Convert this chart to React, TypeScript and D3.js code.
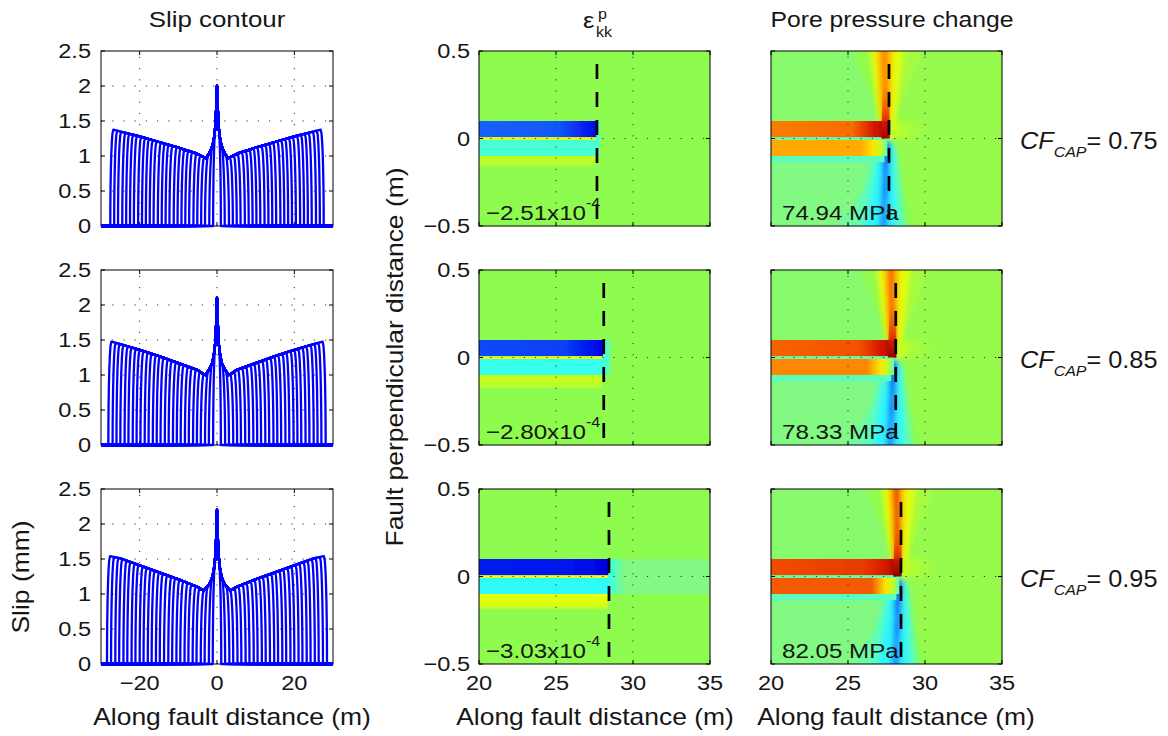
import React from "react";
import * as d3 from "d3";

// ---------------- data ----------------
const cfCapValues = ["0.75", "0.85", "0.95"];
const strainPeakLabels = ["−2.51", "−2.80", "−3.03"];
const porePeakLabels = ["74.94", "78.33", "82.05"];
const rupturePosition = [27.66, 28.1, 28.44];

const slipXTicks = [-20, 0, 20];
const slipYTicks = [0, 0.5, 1, 1.5, 2, 2.5];
const fieldXTicks = [20, 25, 30, 35];
const fieldYTicks = [-0.5, 0, 0.5];

// slip envelope (distance from hypocentre m, slip mm) — symmetric
const slipEnvelope1: [number, number][] = [[0, 2.0], [0.15, 1.75], [0.3, 1.55], [0.5, 1.38], [0.8, 1.24], [1.2, 1.14], [2.0, 1.04], [2.8, 0.97], [3.3, 0.98], [5, 1.03], [10, 1.12], [15, 1.2], [20, 1.28], [25, 1.35], [27.6, 1.39]];
const slipEnvelope2: [number, number][] = [[0, 2.1], [0.15, 1.82], [0.3, 1.6], [0.5, 1.43], [0.8, 1.29], [1.2, 1.18], [2.0, 1.08], [3.0, 1.0], [3.5, 1.01], [5, 1.07], [10, 1.17], [15, 1.27], [20, 1.36], [25, 1.44], [28.1, 1.49]];
const slipEnvelope3: [number, number][] = [[0, 2.2], [0.15, 1.9], [0.3, 1.67], [0.5, 1.5], [0.8, 1.35], [1.2, 1.24], [2.0, 1.14], [3.4, 1.05], [3.9, 1.06], [5, 1.1], [10, 1.21], [15, 1.31], [20, 1.41], [25, 1.51], [28.45, 1.55]];
const slipEnvelopes = [slipEnvelope1, slipEnvelope2, slipEnvelope3];

// rupture half-lengths of each slip contour
const slipTips1 = [1.0, 2.0, 3.1, 4.1, 5.1, 6.1, 7.2, 8.2, 9.2, 10.2, 11.2, 12.3, 13.3, 14.3, 15.3, 16.4, 17.4, 18.4, 19.4, 20.4, 21.5, 22.5, 23.5, 24.5, 25.6, 26.6, 27.6];
const slipTips2 = [1.0, 2.1, 3.1, 4.2, 5.2, 6.2, 7.3, 8.3, 9.4, 10.4, 11.4, 12.5, 13.5, 14.6, 15.6, 16.6, 17.7, 18.7, 19.8, 20.8, 21.8, 22.9, 23.9, 25.0, 26.0, 27.0, 28.1];
const slipTips3 = [1.1, 2.1, 3.2, 4.2, 5.3, 6.3, 7.4, 8.4, 9.5, 10.5, 11.6, 12.6, 13.7, 14.8, 15.8, 16.9, 17.9, 19.0, 20.0, 21.1, 22.1, 23.2, 24.2, 25.3, 26.3, 27.4, 28.45];
const slipTips = [slipTips1, slipTips2, slipTips3];

// plastic volumetric strain field (colormap units 0..1)
const strainUpper = [0.21, 0.18, 0.13];
const strainUpperFront = [0.11, 0.1, 0.09];
const strainMid = [0.41, 0.39, 0.375];
const strainLow = [0.59, 0.6, 0.63];
const strainLowEdge = [-0.16, -0.175, -0.19];
const strainGlowLength = [0.3, 0.6, 1.0];
const strainAheadValue = [0.5, 0.5, 0.475];
const strainBandEdges = [0.1, 0.008, -0.008, -0.1];

// pore pressure field (colormap units 0..1)
const poreUpper = [0.82, 0.85, 0.875];
const poreFront = [0.96, 0.97, 0.985];
const poreLower = [0.75, 0.79, 0.84];
const porePlumeCore = [0.79, 0.82, 0.86];
const poreLowerCore = [0.15, 0.14, 0.12];
const poreBandEdges = [0.1, 0.008, -0.008, -0.1, -0.135];

type Shape = { v: number; p: [number, number][] };
// vertices: [offset from rupture front (m), fault-normal distance (m)]
const poreSectors: Shape[] = [
  { v: 0.485, p: [[-10, 0.1], [-10, 0.6], [-2.8, 0.6], [-0.3, 0.06]] },
  { v: 0.505, p: [[-2.8, 0.6], [-1.2, 0.6], [-0.2, 0.06]] },
  { v: 0.545, p: [[0.6, 0.6], [2.6, 0.6], [0.1, 0.05]] },
  { v: 0.475, p: [[-10, -0.13], [-10, -0.6], [-4.2, -0.6], [-0.3, -0.1]] },
  { v: 0.455, p: [[-4.2, -0.6], [-2.0, -0.6], [-0.2, -0.1]] },
  { v: 0.5, p: [[0.3, -0.6], [2.2, -0.6], [0.05, -0.1]] },
];
const upperPlume: Shape[] = [
  { v: 0.62, p: [[-1.4, 0.6], [1.1, 0.6], [0.35, 0.05], [-0.6, 0.05]] },
  { v: 0.7, p: [[-0.95, 0.6], [0.35, 0.6], [0.1, 0.05], [-0.5, 0.05]] },
];
const upperPlumeCoreShape: [number, number][] = [[-0.6, 0.6], [-0.05, 0.6], [0.02, 0.05], [-0.42, 0.05]];
const lowerPlume: Shape[] = [
  { v: 0.43, p: [[-0.9, -0.05], [0.5, -0.05], [1.2, -0.6], [-2.5, -0.6]] },
  { v: 0.37, p: [[-0.6, -0.02], [0.25, -0.02], [0.6, -0.6], [-1.7, -0.6]] },
  { v: 0.27, p: [[-0.45, -0.25], [-0.05, -0.25], [-0.1, -0.6], [-0.7, -0.6]] },
];
const lowerPlumeCoreShape: [number, number][] = [[-0.4, -0.02], [0.05, -0.02], [-0.05, -0.35], [-0.48, -0.35]];

// ---------------- style / layout ----------------
const cmapStops: [number, string][] = [
  [0.0, "#000080"], [0.1, "#0000e8"], [0.15, "#0030f0"], [0.22, "#1868ff"], [0.3, "#20b0ff"],
  [0.38, "#30fff8"], [0.42, "#50ffc8"], [0.47, "#80f88c"], [0.5, "#8efb50"], [0.54, "#a2fb46"],
  [0.6, "#ccff18"], [0.65, "#ffff00"], [0.72, "#ffc000"], [0.78, "#ff9000"], [0.86, "#f04800"],
  [0.92, "#d01000"], [0.97, "#a00000"], [1.0, "#780000"],
];
const cmap = d3.scaleLinear<string>().domain(cmapStops.map((s) => s[0])).range(cmapStops.map((s) => s[1])).clamp(true);

const ROW_TOP = [51, 270, 489];
const PH = 175;
const SLIP_X: [number, number] = [101, 333];
const STRAIN_X: [number, number] = [479, 710];
const PORE_X: [number, number] = [771, 1002];
const FONT = "'Liberation Sans', Arial, Helvetica, sans-serif";
const SX = 1.15;
const TXT = "#161616";
const BLUE = "#0000ff";

function Txt(props: { x: number; y: number; size: number; anchor?: string; rot?: number; children: React.ReactNode; dy?: string; italic?: boolean }) {
  const { x, y, size, anchor = "start", rot = 0, children, dy, italic } = props;
  return (
    <text
      transform={`translate(${x},${y})${rot ? ` rotate(${rot})` : ""} scale(${SX},1)`}
      fontSize={size}
      textAnchor={anchor}
      dy={dy}
      fill={TXT}
      fontFamily={FONT}
      fontStyle={italic ? "italic" : "normal"}
    >
      {children}
    </text>
  );
}

const fmt = (v: number) => String(v).replace("-", "−");

function Frame({ x0, x1, top, xTicks, yTicks, xs, ys }: any) {
  const bottom = top + PH;
  const t = 4;
  return (
    <g stroke="#000" strokeWidth={1} fill="none">
      <rect x={x0} y={top} width={x1 - x0} height={PH} />
      {xTicks.map((v: number) => (
        <g key={"x" + v}>
          <line x1={xs(v)} x2={xs(v)} y1={bottom} y2={bottom - t} />
          <line x1={xs(v)} x2={xs(v)} y1={top} y2={top + t} />
        </g>
      ))}
      {yTicks.map((v: number) => (
        <g key={"y" + v}>
          <line x1={x0} x2={x0 + t} y1={ys(v)} y2={ys(v)} />
          <line x1={x1} x2={x1 - t} y1={ys(v)} y2={ys(v)} />
        </g>
      ))}
    </g>
  );
}

function Grid({ x0, x1, top, xs, ys, xv, yv }: any) {
  const bottom = top + PH;
  return (
    <g stroke="#333" strokeWidth={1} strokeDasharray="1.2 10" fill="none">
      {xv.map((v: number) => (
        <line key={"gx" + v} x1={xs(v)} x2={xs(v)} y1={bottom} y2={top} />
      ))}
      {yv.map((v: number) => (
        <line key={"gy" + v} x1={x0} x2={x1} y1={ys(v)} y2={ys(v)} />
      ))}
    </g>
  );
}

function slipCurve(env: [number, number][], L: number): [number, number][] {
  const f = d3.scaleLinear().domain(env.map((d) => d[0])).range(env.map((d) => d[1])).clamp(true);
  const e = (x: number) => f(Math.abs(x));
  const w = Math.min(0.8, L * 0.5);
  const prof = [0, 0.02, 0.08, 0.18, 0.32, 0.5, 0.7, 1];
  const shape = (t: number) => Math.sqrt(1 - (1 - t) * (1 - t));
  const pts: [number, number][] = [[-30, 0], [-L, 0]];
  prof.forEach((t) => {
    const x = -L + t * w;
    pts.push([x, e(x) * shape(t)]);
  });
  env.slice().reverse().forEach(([x]) => {
    if (x > 0 && x < L - w) pts.push([-x, e(x)]);
  });
  pts.push([0, e(0)]);
  env.forEach(([x]) => {
    if (x > 0 && x < L - w) pts.push([x, e(x)]);
  });
  prof.slice().reverse().forEach((t) => {
    const x = L - t * w;
    pts.push([x, e(x) * shape(t)]);
  });
  pts.push([L, 0], [30, 0]);
  return pts;
}

function SlipPanel({ r }: { r: number }) {
  const top = ROW_TOP[r];
  const bottom = top + PH;
  const xs = d3.scaleLinear().domain([-30, 30]).range(SLIP_X);
  const ys = d3.scaleLinear().domain([0, 2.5]).range([bottom, top]);
  const line = d3.line<[number, number]>().x((d) => xs(d[0])).y((d) => ys(d[1]));
  return (
    <g>
      <rect x={SLIP_X[0]} y={top} width={SLIP_X[1] - SLIP_X[0]} height={PH} fill="#fff" />
      <Grid x0={SLIP_X[0]} x1={SLIP_X[1]} top={top} xs={xs} ys={ys} xv={slipXTicks} yv={slipYTicks.filter((v) => v > 0 && v < 2.5)} />
      <Frame x0={SLIP_X[0]} x1={SLIP_X[1]} top={top} xTicks={slipXTicks} yTicks={slipYTicks} xs={xs} ys={ys} />
      <g fill="none" stroke={BLUE} strokeWidth={2.3} strokeLinejoin="round">
        {slipTips[r].map((L, i) => (
          <path key={i} d={line(slipCurve(slipEnvelopes[r], L)) || ""} />
        ))}
      </g>
      {slipYTicks.map((v) => (
        <Txt key={v} x={SLIP_X[0] - 10} y={ys(v)} size={20.5} anchor="end" dy="0.36em">{fmt(v)}</Txt>
      ))}
      {r === 2 &&
        slipXTicks.map((v) => (
          <Txt key={v} x={xs(v)} y={bottom + 26} size={20.5} anchor="middle">{fmt(v)}</Txt>
        ))}
    </g>
  );
}

const poly = (pts: [number, number][], T: number, xs: any, ys: any) => pts.map(([dx, y]) => `${xs(T + dx)},${ys(y)}`).join(" ");

function StrainPanel({ r }: { r: number }) {
  const top = ROW_TOP[r];
  const bottom = top + PH;
  const T = rupturePosition[r];
  const xs = d3.scaleLinear().domain([20, 35]).range(STRAIN_X);
  const ys = d3.scaleLinear().domain([-0.5, 0.5]).range([bottom, top]);
  const id = `st${r}`;
  const xa = xs(20), xb = xs(T - 0.05);
  const off = (x: number) => (xs(x) - xa) / (xb - xa);
  const [e0, e1, e2, e3] = strainBandEdges;
  const rect = (x0: number, x1: number, y0: number, y1: number, fill: string, key: string) => (
    <rect key={key} x={xs(x0)} y={ys(y1)} width={xs(x1) - xs(x0)} height={ys(y0) - ys(y1)} fill={fill} />
  );
  return (
    <g>
      <defs>
        <clipPath id={id + "c"}>
          <rect x={STRAIN_X[0]} y={top} width={STRAIN_X[1] - STRAIN_X[0]} height={PH} />
        </clipPath>
        <linearGradient id={id + "u"} gradientUnits="userSpaceOnUse" x1={xa} x2={xb} y1={0} y2={0}>
          <stop offset={0} stopColor={cmap(strainUpper[r])} />
          <stop offset={off(T - 2.5)} stopColor={cmap(strainUpper[r] - 0.01)} />
          <stop offset={1} stopColor={cmap(strainUpperFront[r])} />
        </linearGradient>
        <linearGradient id={id + "l"} x1={0} x2={0} y1={0} y2={1}>
          <stop offset={0} stopColor={cmap(strainLow[r])} />
          <stop offset={0.7} stopColor={cmap(strainLow[r] - 0.02)} />
          <stop offset={1} stopColor={cmap(0.55)} />
        </linearGradient>
        <linearGradient id={id + "g"} x1={0} x2={1} y1={0} y2={0}>
          <stop offset={0} stopColor={cmap(0.38)} />
          <stop offset={0.5} stopColor={cmap(0.43)} />
          <stop offset={1} stopColor={cmap(strainAheadValue[r])} />
        </linearGradient>
      </defs>
      <g clipPath={`url(#${id}c)`}>
        <g filter="url(#blurS)">
          <rect x={STRAIN_X[0] - 10} y={top - 10} width={STRAIN_X[1] - STRAIN_X[0] + 20} height={PH + 20} fill={cmap(0.5)} />
          {rect(T + strainGlowLength[r], 36, e3, e0, cmap(strainAheadValue[r]), "ahead")}
          {rect(T - 0.1, T + strainGlowLength[r], e3, e0, `url(#${id}g)`, "glow")}
          {rect(19, T - 0.1, strainLowEdge[r], e3, `url(#${id}l)`, "low")}
          {rect(19, T - 0.05, e3, e2, cmap(strainMid[r]), "mid")}
          {rect(19, T - 0.05, e2, e1, cmap(0.63), "line")}
          {rect(19, T - 0.05, e1, e0, `url(#${id}u)`, "up")}
        </g>
      </g>
      <Grid x0={STRAIN_X[0]} x1={STRAIN_X[1]} top={top} xs={xs} ys={ys} xv={[25, 30]} yv={[0]} />
      <Frame x0={STRAIN_X[0]} x1={STRAIN_X[1]} top={top} xTicks={fieldXTicks} yTicks={fieldYTicks} xs={xs} ys={ys} />
      <line x1={xs(T)} x2={xs(T)} y1={top + 13} y2={bottom} stroke="#000" strokeWidth={2.7} strokeDasharray="15 13" />
      <text transform={`translate(${STRAIN_X[0] + 7},${bottom - 6}) scale(${SX},1)`} fontSize={21} fill={TXT} fontFamily={FONT}>
        {strainPeakLabels[r]}x10
        <tspan fontSize={14} dy={-12}>-4</tspan>
      </text>
      {fieldYTicks.map((v) => (
        <Txt key={v} x={STRAIN_X[0] - 9} y={ys(v)} size={20.5} anchor="end" dy="0.36em">{fmt(v)}</Txt>
      ))}
      {r === 2 &&
        fieldXTicks.map((v) => (
          <Txt key={v} x={xs(v)} y={bottom + 26} size={20.5} anchor="middle">{fmt(v)}</Txt>
        ))}
    </g>
  );
}

function PorePanel({ r }: { r: number }) {
  const top = ROW_TOP[r];
  const bottom = top + PH;
  const T = rupturePosition[r];
  const xs = d3.scaleLinear().domain([20, 35]).range(PORE_X);
  const ys = d3.scaleLinear().domain([-0.5, 0.5]).range([bottom, top]);
  const id = `pp${r}`;
  const xa = xs(20), xb = xs(T);
  const off = (x: number) => Math.max(0, Math.min(1, (xs(x) - xa) / (xb - xa)));
  const [b0, b1, b2, b3, b4] = poreBandEdges;
  const rect = (x0: number, x1: number, y0: number, y1: number, fill: string, key: string) => (
    <rect key={key} x={xs(x0)} y={ys(y1)} width={xs(x1) - xs(x0)} height={ys(y0) - ys(y1)} fill={fill} />
  );
  return (
    <g>
      <defs>
        <clipPath id={id + "c"}>
          <rect x={PORE_X[0]} y={top} width={PORE_X[1] - PORE_X[0]} height={PH} />
        </clipPath>
        <linearGradient id={id + "u"} gradientUnits="userSpaceOnUse" x1={xa} x2={xb} y1={0} y2={0}>
          <stop offset={0} stopColor={cmap(poreUpper[r] - 0.02)} />
          <stop offset={off(T - 2.4)} stopColor={cmap(poreUpper[r])} />
          <stop offset={off(T - 1.0)} stopColor={cmap(0.91)} />
          <stop offset={1} stopColor={cmap(poreFront[r])} />
        </linearGradient>
        <linearGradient id={id + "l"} gradientUnits="userSpaceOnUse" x1={xa} x2={xb} y1={0} y2={0}>
          <stop offset={0} stopColor={cmap(poreLower[r])} />
          <stop offset={off(T - 1.9)} stopColor={cmap(poreLower[r])} />
          <stop offset={off(T - 1.0)} stopColor={cmap(0.68)} />
          <stop offset={off(T - 0.5)} stopColor={cmap(0.58)} />
          <stop offset={off(T - 0.2)} stopColor={cmap(0.46)} />
          <stop offset={1} stopColor={cmap(0.4)} />
        </linearGradient>
        <linearGradient id={id + "k"} x1={0} x2={0} y1={1} y2={0}>
          <stop offset={0} stopColor={cmap(poreFront[r])} stopOpacity={1} />
          <stop offset={0.4} stopColor={cmap(0.9)} stopOpacity={0.8} />
          <stop offset={1} stopColor={cmap(0.86)} stopOpacity={0} />
        </linearGradient>
        <linearGradient id={id + "b"} x1={0} x2={0} y1={0} y2={1}>
          <stop offset={0} stopColor={cmap(poreLowerCore[r])} stopOpacity={1} />
          <stop offset={1} stopColor={cmap(0.24)} stopOpacity={0.6} />
        </linearGradient>
        <linearGradient id={id + "a"} x1={0} x2={1} y1={0} y2={0}>
          <stop offset={0} stopColor={cmap(0.6)} stopOpacity={1} />
          <stop offset={1} stopColor={cmap(0.54)} stopOpacity={0} />
        </linearGradient>
      </defs>
      <g clipPath={`url(#${id}c)`}>
        <rect x={PORE_X[0]} y={top} width={PORE_X[1] - PORE_X[0]} height={PH} fill={cmap(0.515)} />
        <g filter="url(#blurM)">
          {poreSectors.map((s, i) => (
            <polygon key={i} points={poly(s.p, T, xs, ys)} fill={cmap(s.v)} />
          ))}
        </g>
        <g filter="url(#blurL)">
          {lowerPlume.map((s, i) => (
            <polygon key={i} points={poly(s.p, T, xs, ys)} fill={cmap(s.v)} />
          ))}
          <polygon points={poly(lowerPlumeCoreShape, T, xs, ys)} fill={`url(#${id}b)`} />
          {upperPlume.map((s, i) => (
            <polygon key={"u" + i} points={poly(s.p, T, xs, ys)} fill={cmap(s.v)} />
          ))}
          <polygon points={poly(upperPlumeCoreShape, T, xs, ys)} fill={cmap(porePlumeCore[r])} />
          <rect x={xs(T)} y={ys(b0)} width={xs(T + 2.8) - xs(T)} height={ys(0) - ys(b0)} fill={`url(#${id}a)`} />
        </g>
        <g filter="url(#blurS)">
          {rect(19, T - 0.3, b4, b3, cmap(0.43), "strip")}
          {rect(19, T - 0.1, b3, b2, `url(#${id}l)`, "low")}
          {rect(19, T - 0.1, b2, b1, cmap(0.44), "line")}
          {rect(19, T, b1, b0, `url(#${id}u)`, "up")}
          <polygon points={poly([[-0.5, 0.0], [0.05, 0.0], [0.02, 0.3], [-0.4, 0.3]], T, xs, ys)} fill={`url(#${id}k)`} />
        </g>
      </g>
      <Grid x0={PORE_X[0]} x1={PORE_X[1]} top={top} xs={xs} ys={ys} xv={[25, 30]} yv={[0]} />
      <Frame x0={PORE_X[0]} x1={PORE_X[1]} top={top} xTicks={fieldXTicks} yTicks={fieldYTicks} xs={xs} ys={ys} />
      <line x1={xs(T)} x2={xs(T)} y1={top + 13} y2={bottom} stroke="#000" strokeWidth={2.7} strokeDasharray="15 13" />
      <Txt x={PORE_X[0] + 11} y={bottom - 6} size={21}>{porePeakLabels[r]} MPa</Txt>
      {r === 2 &&
        fieldXTicks.map((v) => (
          <Txt key={v} x={xs(v)} y={bottom + 26} size={20.5} anchor="middle">{fmt(v)}</Txt>
        ))}
      <text transform={`translate(1020,${top + PH / 2 + 10}) scale(1.1,1)`} fontSize={23} fill={TXT} fontFamily={FONT}>
        <tspan fontStyle="italic">CF</tspan>
        <tspan fontStyle="italic" fontSize={14.5} dy={8}>CAP</tspan>
        <tspan dy={-8}>= {cfCapValues[r]}</tspan>
      </text>
    </g>
  );
}

export default function App() {
  const rows = [0, 1, 2];
  return (
    <svg width={1168} height={736} style={{ position: "absolute", left: 0, top: 0, background: "#fff" }}>
      <defs>
        <filter id="blurS" x="-5%" y="-5%" width="110%" height="110%">
          <feGaussianBlur stdDeviation={0.6} />
        </filter>
        <filter id="blurM" x="-5%" y="-5%" width="110%" height="110%">
          <feGaussianBlur stdDeviation={1.2} />
        </filter>
        <filter id="blurL" x="-20%" y="-20%" width="140%" height="140%">
          <feGaussianBlur stdDeviation={2.5} />
        </filter>
      </defs>
      <rect x={0} y={0} width={1168} height={736} fill="#fff" />
      {rows.map((r) => (
        <g key={r}>
          <SlipPanel r={r} />
          <StrainPanel r={r} />
          <PorePanel r={r} />
        </g>
      ))}
      <Txt x={217} y={27} size={22.5} anchor="middle">Slip contour</Txt>
      <Txt x={583} y={28} size={22}>ε</Txt>
      <Txt x={598} y={19} size={14}>p</Txt>
      <Txt x={596} y={37} size={14}>kk</Txt>
      <Txt x={892} y={27} size={21.5} anchor="middle">Pore pressure change</Txt>
      <Txt x={232} y={725} size={23} anchor="middle">Along fault distance (m)</Txt>
      <Txt x={595} y={725} size={23} anchor="middle">Along fault distance (m)</Txt>
      <Txt x={896} y={725} size={23} anchor="middle">Along fault distance (m)</Txt>
      <Txt x={29} y={577} size={23} anchor="middle" rot={-90}>Slip (mm)</Txt>
      <Txt x={403} y={357} size={23} anchor="middle" rot={-90}>Fault perpendicular distance (m)</Txt>
    </svg>
  );
}
